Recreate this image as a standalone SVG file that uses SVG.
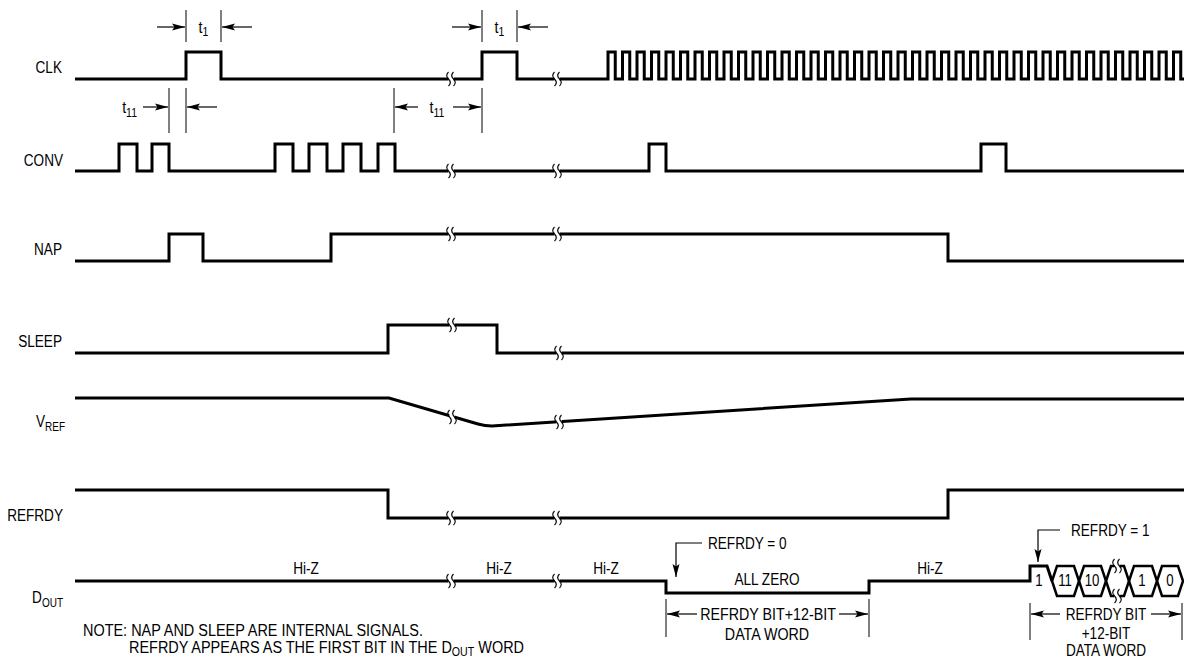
<svg xmlns="http://www.w3.org/2000/svg" width="1184" height="657" viewBox="0 0 1184 657">
<style>
text { font-family: "Liberation Sans", Arial, sans-serif; fill: #000; font-size: 17px; }
.dig { font-size: 16.5px; }
.sub { font-size: 12.5px; }
.sig { fill: none; stroke: #000; stroke-width: 3; stroke-linejoin: miter; }
.bus { fill: none; stroke: #000; stroke-width: 2.5; stroke-linejoin: miter; }
.thin { fill: none; stroke: #000; stroke-width: 1; }
.arr { fill: none; stroke: #000; stroke-width: 1.2; marker-end: url(#ah); }
</style>
<defs>
<marker id="ah" markerUnits="userSpaceOnUse" markerWidth="14" markerHeight="8" refX="13" refY="4" orient="auto">
<path d="M0,0.5 L13,4 L0,7.5 L2.5,4 z" fill="#000"/>
</marker>
<g id="brk">
<rect x="-2.6" y="-5" width="5.2" height="10" fill="#fff"/>
<path d="M-2.5,-7 c-2.5,2.5 -2.5,4.5 0,7 c2.5,2.5 2.5,4.5 0,7 M2.5,-7 c-2.5,2.5 -2.5,4.5 0,7 c2.5,2.5 2.5,4.5 0,7" fill="none" stroke="#000" stroke-width="1.1"/>
</g>
</defs>
<rect width="1184" height="657" fill="#fff"/>

<!-- signal labels -->
<g id="labels">
<text id="lbl-clk" transform="translate(62 73) scale(0.8 1)" text-anchor="end">CLK</text>
<text id="lbl-conv" transform="translate(63 166) scale(0.8 1)" text-anchor="end">CONV</text>
<text id="lbl-nap" transform="translate(62 255) scale(0.8 1)" text-anchor="end">NAP</text>
<text id="lbl-sleep" transform="translate(62 347) scale(0.8 1)" text-anchor="end">SLEEP</text>
<text id="lbl-vref" transform="translate(65 427) scale(0.8 1)" text-anchor="end">V<tspan class="sub" dy="4">REF</tspan></text>
<text id="lbl-refrdy" transform="translate(63 521) scale(0.8 1)" text-anchor="end">REFRDY</text>
<text id="lbl-dout" transform="translate(63 603) scale(0.8 1)" text-anchor="end">D<tspan class="sub" dy="4">OUT</tspan></text>
</g>

<!-- waveforms -->
<g id="connectors">
<path id="clk" class="sig" d="M75 79 H186 V52 H221 V79 H482 V52 H517 V79 H608
V52 h7.25 V79 h7.25 V52 h7.25 V79 h7.25 V52 h7.25 V79 h7.25 V52 h7.25 V79 h7.25 V52 h7.25 V79 h7.25
V52 h7.25 V79 h7.25 V52 h7.25 V79 h7.25 V52 h7.25 V79 h7.25 V52 h7.25 V79 h7.25 V52 h7.25 V79 h7.25
V52 h7.25 V79 h7.25 V52 h7.25 V79 h7.25 V52 h7.25 V79 h7.25 V52 h7.25 V79 h7.25 V52 h7.25 V79 h7.25
V52 h7.25 V79 h7.25 V52 h7.25 V79 h7.25 V52 h7.25 V79 h7.25 V52 h7.25 V79 h7.25 V52 h7.25 V79 h7.25
V52 h7.25 V79 h7.25 V52 h7.25 V79 h7.25 V52 h7.25 V79 h7.25 V52 h7.25 V79 h7.25 V52 h7.25 V79 h7.25
V52 h7.25 V79 h7.25 V52 h7.25 V79 h7.25 V52 h7.25 V79 h7.25 V52 h7.25 V79 h7.25 V52 h7.25 V79 h7.25
V52 h7.25 V79 h7.25 V52 h7.25 V79 h7.25 V52 h7.25 V79 h7.25 V52 h7.25 V79 h7.25 V52 h7.25 V79 h7.25
V52 h7.25 V79 h7.25 V52 h7.25 V79 h7.25 V52 h7.25 V79 h7.25 V52 h7.25 V79 h7.25
V52 h7.25 V79 H1186"/>
<path id="conv" class="sig" d="M75 171 H119 V144 H137 V171 H152 V144 H169 V171 H275 V144 H293 V171 H309 V144 H327 V171 H343 V144 H361 V171 H378 V144 H395 V171 H649 V144 H666 V171 H981 V144 H1006 V171 H1186"/>
<path id="nap" class="sig" d="M75 261 H169 V234 H203 V261 H331 V234 H948 V261 H1186"/>
<path id="sleep" class="sig" d="M75 353 H388 V325 H497 V353 H1186"/>
<path id="vref" class="sig" d="M75 398 H389 L478 424 Q485 426 492 426 L911 399 H1186"/>
<path id="refrdy" class="sig" d="M75 490 H388 V518 H948 V490 H1186"/>
<path id="dout" class="sig" d="M75 581 H666 V593 H869 V581 H1030 V566 H1047 L1052 581"/>
<g id="dout-bus" class="bus">
<polygon points="1052,581 1057,566 1074,566 1079,581 1074,596 1057,596"/>
<polygon points="1079,581 1084,566 1101,566 1106,581 1101,596 1084,596"/>
<polygon points="1106,581 1111,566 1124,566 1129,581 1124,596 1111,596"/>
<polygon points="1129,581 1134,566 1152,566 1157,581 1152,596 1134,596"/>
<polygon points="1157,581 1162,566 1178,566 1183,581 1178,596 1162,596"/>
</g>
<g id="breaks">
<use href="#brk" x="451" y="79"/><use href="#brk" x="557" y="79"/>
<use href="#brk" x="451" y="171"/><use href="#brk" x="557" y="171"/>
<use href="#brk" x="451" y="234"/><use href="#brk" x="557" y="234"/>
<use href="#brk" x="452" y="325"/><use href="#brk" x="559" y="353"/>
<use href="#brk" x="452" y="417"/><use href="#brk" x="559" y="422"/>
<use href="#brk" x="451" y="518"/><use href="#brk" x="557" y="518"/>
<use href="#brk" x="451" y="581"/><use href="#brk" x="557" y="581"/>
<use href="#brk" x="1117" y="566"/><use href="#brk" x="1117" y="596"/>
</g>
</g>

<!-- timing annotations -->
<g id="t1-a">
<line class="thin" x1="186" y1="10" x2="186" y2="42"/>
<line class="thin" x1="221" y1="10" x2="221" y2="42"/>
<line class="arr" x1="157" y1="27" x2="185" y2="27"/>
<line class="arr" x1="252" y1="27" x2="222" y2="27"/>
<text transform="translate(203.5 33) scale(0.84 1)" text-anchor="middle">t<tspan class="sub" dy="3">1</tspan></text>
</g>
<g id="t1-b">
<line class="thin" x1="482" y1="10" x2="482" y2="42"/>
<line class="thin" x1="517" y1="10" x2="517" y2="42"/>
<line class="arr" x1="452" y1="27" x2="481" y2="27"/>
<line class="arr" x1="548" y1="27" x2="518" y2="27"/>
<text transform="translate(499.5 33) scale(0.84 1)" text-anchor="middle">t<tspan class="sub" dy="3">1</tspan></text>
</g>
<g id="t11-a">
<line class="thin" x1="169" y1="88" x2="169" y2="133"/>
<line class="thin" x1="186" y1="88" x2="186" y2="133"/>
<line class="arr" x1="143" y1="107" x2="168" y2="107"/>
<line class="arr" x1="217" y1="107" x2="187" y2="107"/>
<text transform="translate(137 113) scale(0.84 1)" text-anchor="end">t<tspan class="sub" dy="4">11</tspan></text>
</g>
<g id="t11-b">
<line class="thin" x1="394" y1="88" x2="394" y2="133"/>
<line class="thin" x1="482" y1="88" x2="482" y2="133"/>
<line class="arr" x1="418" y1="107" x2="395" y2="107"/>
<line class="arr" x1="453" y1="107" x2="481" y2="107"/>
<text transform="translate(437 113) scale(0.84 1)" text-anchor="middle">t<tspan class="sub" dy="4">11</tspan></text>
</g>

<!-- DOUT texts -->
<g id="dout-texts">
<text transform="translate(306 574) scale(0.8 1)" text-anchor="middle">Hi-Z</text>
<text transform="translate(499 574) scale(0.8 1)" text-anchor="middle">Hi-Z</text>
<text transform="translate(606 574) scale(0.8 1)" text-anchor="middle">Hi-Z</text>
<text transform="translate(930 574) scale(0.8 1)" text-anchor="middle">Hi-Z</text>
<text transform="translate(767 585) scale(0.8 1)" text-anchor="middle">ALL ZERO</text>
</g>
<g id="bits">
<text class="dig" transform="translate(1039 586) scale(0.8 1)" text-anchor="middle">1</text>
<text class="dig" transform="translate(1065 586) scale(0.8 1)" text-anchor="middle">11</text>
<text class="dig" transform="translate(1092 586) scale(0.8 1)" text-anchor="middle">10</text>
<text class="dig" transform="translate(1142 586) scale(0.8 1)" text-anchor="middle">1</text>
<text class="dig" transform="translate(1170 586) scale(0.8 1)" text-anchor="middle">0</text>
</g>

<g id="refrdy0">
<polyline class="arr" points="702,543 676,543 676,577"/>
<text transform="translate(708 549) scale(0.8 1)">REFRDY = 0</text>
</g>
<g id="refrdy1">
<polyline class="arr" points="1060,530 1038,530 1038,562"/>
<text transform="translate(1071 536) scale(0.8 1)">REFRDY = 1</text>
</g>

<g id="word-a">
<line class="thin" x1="666" y1="599" x2="666" y2="637"/>
<line class="thin" x1="869" y1="599" x2="869" y2="637"/>
<line class="arr" x1="697" y1="614" x2="667" y2="614"/>
<line class="arr" x1="839" y1="614" x2="868" y2="614"/>
<text transform="translate(768 620) scale(0.84 1)" text-anchor="middle">REFRDY BIT+12-BIT</text>
<text transform="translate(767 640) scale(0.84 1)" text-anchor="middle">DATA WORD</text>
</g>
<g id="word-b">
<line class="thin" x1="1030" y1="603" x2="1030" y2="640"/>
<line class="thin" x1="1182" y1="603" x2="1182" y2="640"/>
<line class="arr" x1="1060" y1="614" x2="1031" y2="614"/>
<line class="arr" x1="1151" y1="614" x2="1181" y2="614"/>
<text transform="translate(1106 620) scale(0.8 1)" text-anchor="middle">REFRDY BIT</text>
<text transform="translate(1106 639) scale(0.8 1)" text-anchor="middle">+12-BIT</text>
<text transform="translate(1106 656) scale(0.8 1)" text-anchor="middle">DATA WORD</text>
</g>

<g id="note">
<text transform="translate(83 636) scale(0.85 1)">NOTE: NAP AND SLEEP ARE INTERNAL SIGNALS.</text>
<text transform="translate(129 653) scale(0.85 1)">REFRDY APPEARS AS THE FIRST BIT IN THE D<tspan class="sub" dy="3">OUT</tspan><tspan dy="-3"> WORD</tspan></text>
</g>
</svg>
